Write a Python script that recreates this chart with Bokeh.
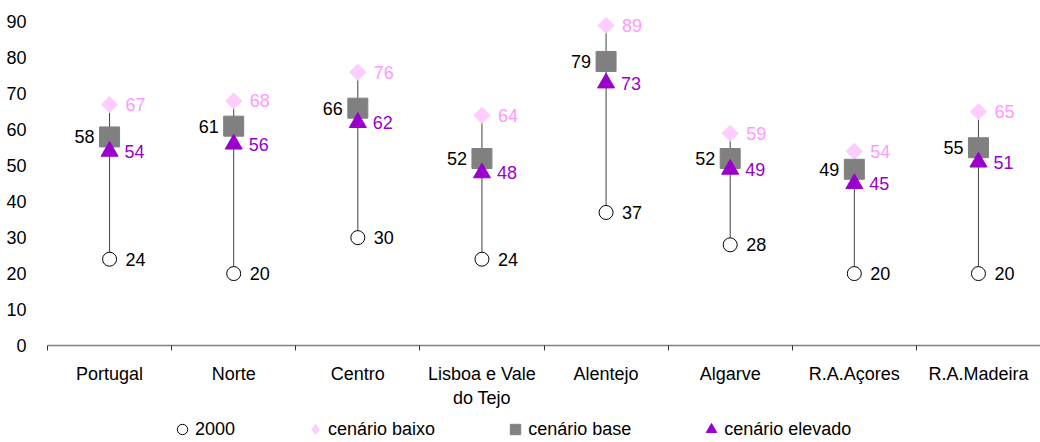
from bokeh.plotting import figure
from bokeh.models import (Range1d, FixedTicker, ColumnDataSource, Legend, LegendItem,
                          LinearAxis)
from bokeh.layouts import column
from bokeh.core.properties import value
from bokeh.embed import file_html
from bokeh.resources import INLINE

regions = ["Portugal", "Norte", "Centro", "Lisboa e Vale\ndo Tejo", "Alentejo",
           "Algarve", "R.A.Açores", "R.A.Madeira"]
v2000 = [24, 20, 30, 24, 37, 28, 20, 20]
baixo = [67, 68, 76, 64, 89, 59, 54, 65]
base = [58, 61, 66, 52, 79, 52, 49, 55]
elevado = [54, 56, 62, 48, 73, 49, 45, 51]
y_ticks = [0, 10, 20, 30, 40, 50, 60, 70, 80, 90]
series_names = ["2000", "cenário baixo", "cenário base", "cenário elevado"]

FONT = "Liberation Sans"
FS = "18px"

xs = [i + 0.5 for i in range(len(regions))]
src = ColumnDataSource(dict(
    x=xs, v2000=v2000, baixo=baixo, base=base, elevado=elevado,
    l2000=[str(v) for v in v2000], lbaixo=[str(v) for v in baixo],
    lbase=[str(v) for v in base], lelevado=[str(v) for v in elevado],
))

p = figure(width=1040, height=416, output_backend="svg", toolbar_location=None,
           x_range=Range1d(0, len(regions)), y_range=Range1d(0, 94),
           x_axis_type=None, y_axis_type=None,
           min_border_left=47, min_border_right=0, min_border_top=7,
           min_border_bottom=71)
p.xgrid.visible = False
p.ygrid.visible = False
p.outline_line_color = None
p.background_fill_color = "white"
p.border_fill_color = "white"

yaxis = LinearAxis(ticker=FixedTicker(ticks=y_ticks), axis_line_color=None,
                   major_tick_line_color=None, minor_tick_line_color=None,
                   major_label_text_font=FONT, major_label_text_font_size=FS,
                   major_label_text_color="black", major_label_standoff=15)
p.add_layout(yaxis, "left")

xaxis = LinearAxis(ticker=FixedTicker(ticks=xs, minor_ticks=list(range(len(regions) + 1))),
                   major_label_overrides={x: r for x, r in zip(xs, regions)},
                   major_tick_line_color=None, major_tick_out=0, major_tick_in=0,
                   minor_tick_line_color="#333333", minor_tick_out=5, minor_tick_in=0,
                   axis_line_color="#808080", axis_line_width=1.5,
                   major_label_text_font=FONT, major_label_text_font_size=FS,
                   major_label_text_color="black", major_label_standoff=13)
p.add_layout(xaxis, "below")

p.segment(x0="x", y0="v2000", x1="x", y1="baixo", source=src,
          line_color="#404040", line_width=1)

marker_styles = [
    dict(marker="circle", size=14, fill_color="white", line_color="black", line_width=1),
    dict(marker="square", size=11.5, angle=0.785398, fill_color="#FFCCFF", line_color="#FFCCFF"),
    dict(marker="square", size=20, fill_color="#808080", line_color="#808080"),
    dict(marker="triangle", size=17, fill_color="#9900CC", line_color="#9900CC"),
]
legend_styles = [
    dict(marker="circle", fill_color="white", line_color="black", line_width=1),
    dict(marker="diamond", fill_color="#FFCCFF", line_color="#FFCCFF"),
    dict(marker="square", fill_color="#808080", line_color="#808080"),
    dict(marker="triangle", fill_color="#9900CC", line_color="#9900CC"),
]
cols = ["v2000", "baixo", "base", "elevado"]
for c, st in zip(cols, marker_styles):
    p.scatter("x", c, source=src, **st)

common = dict(source=src, text_font=value(FONT), text_font_size=FS, text_baseline="middle")
p.text("x", "v2000", text="l2000", x_offset=16, text_align="left", text_color="black", **common)
p.text("x", "baixo", text="lbaixo", x_offset=16, text_align="left", text_color="#FF99FF", **common)
p.text("x", "base", text="lbase", x_offset=-15, text_align="right", text_color="black", **common)
p.text("x", "elevado", text="lelevado", x_offset=15, text_align="left", text_color="#9900CC", **common)

# Legend strip (separate figure so the legend sits at the bottom of the page)
pl = figure(width=1040, height=26, output_backend="svg", toolbar_location=None,
            x_range=Range1d(0, len(regions)), y_range=Range1d(-10, -9),
            x_axis_type=None, y_axis_type=None,
            min_border_left=0, min_border_right=0, min_border_top=0, min_border_bottom=0)
pl.xgrid.visible = False
pl.ygrid.visible = False
pl.outline_line_color = None
pl.border_fill_color = "white"
leg_renderers = [pl.scatter("x", c, source=src, **st) for c, st in zip(cols, legend_styles)]

legend = Legend(items=[LegendItem(label=n, renderers=[r])
                       for n, r in zip(series_names, leg_renderers)],
                orientation="horizontal", location=(122, 0),
                label_text_font=FONT, label_text_font_size=FS, label_text_color="black",
                border_line_color=None, background_fill_alpha=0,
                spacing=67, label_standoff=0, glyph_width=26, glyph_height=26,
                label_height=20, padding=0, margin=0)
pl.add_layout(legend, "center")

layout = column(p, pl, spacing=0)
open("out.html", "w").write(file_html(layout, INLINE))
